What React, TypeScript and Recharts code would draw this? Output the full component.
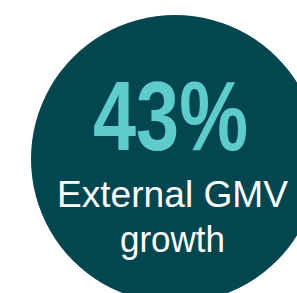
import { PieChart, Pie, Cell, Label } from "recharts"

const categories = ["External GMV growth"]
const values = [43]
const labelLines = ["External GMV", "growth"]

const CIRCLE = "#02474F"
const ACCENT = "#5ECDC9"

const data = categories.map((name, i) => ({ name, value: values[i] }))

// widths measured off the reference, the narrow font is not installed
const lineWidths = [231, 105]

function CenterText(props: any) {
  const vb = props.viewBox || {}
  const cx = vb.cx ?? 170
  const cy = vb.cy ?? 154
  return (
    <g>
      <text
        x={cx + 0.5}
        y={cy - 4}
        textAnchor="middle"
        fill={ACCENT}
        fontFamily="'Liberation Sans', Arial, sans-serif"
        fontWeight="bold"
        fontSize={98}
        textLength={155}
        lengthAdjust="spacingAndGlyphs"
      >
        {`${values[0]}%`}
      </text>
      {labelLines.map((line, i) => (
        <text
          key={line}
          x={cx + 2.5}
          y={cy + 53 + i * 45}
          textAnchor="middle"
          fill="#ffffff"
          fontFamily="'Liberation Sans', Arial, sans-serif"
          fontSize={36}
          textLength={lineWidths[i]}
          lengthAdjust="spacingAndGlyphs"
        >
          {line}
        </text>
      ))}
    </g>
  )
}

export default function App() {
  return (
    <div style={{ position: "absolute", left: 0, top: 0 }}>
      <PieChart width={320} height={310}>
        <Pie
          data={data}
          dataKey="value"
          nameKey="name"
          cx={170}
          cy={154}
          innerRadius={0}
          outerRadius={144}
          startAngle={90}
          endAngle={-270}
          stroke="none"
          isAnimationActive={false}
        >
          {data.map((d) => (
            <Cell key={d.name} fill={CIRCLE} />
          ))}
          <Label position="center" content={<CenterText />} />
        </Pie>
      </PieChart>
    </div>
  )
}
